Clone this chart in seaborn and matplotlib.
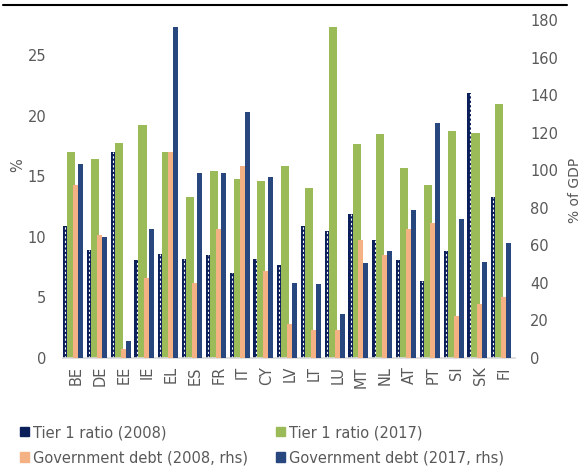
import numpy as np
import pandas as pd
import matplotlib
matplotlib.use("Agg")
import matplotlib.pyplot as plt
from matplotlib.lines import Line2D
from matplotlib.patches import Patch
import seaborn as sns

# %% Data ----
countries = ['BE', 'DE', 'EE', 'IE', 'EL', 'ES', 'FR', 'IT', 'CY', 'LV',
             'LT', 'LU', 'MT', 'NL', 'AT', 'PT', 'SI', 'SK', 'FI']

tier1_2008 = [10.9, 8.9, 17.0, 8.05, 8.6, 8.15, 8.5, 7.0, 8.15, 7.65,
              10.9, 10.5, 11.9, 9.7, 8.05, 6.35, 8.8, 21.9, 13.25]
tier1_2017 = [17.0, 16.4, 17.7, 19.2, 17.0, 13.3, 15.4, 14.8, 14.6, 15.85,
              14.0, 27.35, 17.65, 18.45, 15.7, 14.3, 18.7, 18.6, 21.0]
debt_2008 = [92.2, 65.5, 4.4, 42.4, 109.6, 39.8, 68.7, 102.3, 46.0, 18.1,
             14.9, 14.9, 62.9, 54.9, 68.7, 71.9, 22.0, 28.6, 32.5]
debt_2017 = [103.5, 64.1, 8.9, 68.7, 176.5, 98.4, 98.2, 131.2, 96.2, 39.8,
             39.2, 23.3, 50.4, 56.8, 78.5, 125.2, 74.1, 51.0, 61.4]

labels = ['Tier 1 ratio (2008)', 'Tier 1 ratio (2017)',
          'Government debt (2008, rhs)', 'Government debt (2017, rhs)']

c_t08 = '#0B1F5B'
c_t17 = '#9BBB59'
c_d08 = '#F4B183'
c_d17 = '#28477E'
grey = '#595959'

# %% Plot ----
sns.set_theme(style='white')
plt.rcParams['font.family'] = ['DejaVu Sans']

fig = plt.figure(figsize=(5.84, 4.70), dpi=100)
ax = fig.add_axes([63/584, 1 - 357.7/470, 452/584, 337.7/470])
ax2 = ax.twinx()

pos = np.arange(len(countries))

def draw_bars(axis, values, offset, width, color):
    df = pd.DataFrame({'x': pos + offset, 'y': values})
    sns.barplot(data=df, x='x', y='y', native_scale=True, width=width,
                color=color, saturation=1, errorbar=None, linewidth=0,
                ax=axis)

# left axis: tier 1 ratios
draw_bars(ax, tier1_2008, -0.465, 0.17, c_t08)
ax.vlines(pos - 0.455, 0, tier1_2008, colors='white',
          linestyles=(0, (2, 2)), lw=0.8)
draw_bars(ax, tier1_2017, -0.21, 0.34, c_t17)

# right axis: government debt
draw_bars(ax2, debt_2008, -0.025, 0.21, c_d08)
draw_bars(ax2, debt_2017, 0.185, 0.21, c_d17)

ax.set_xlim(-0.55, 18.45)
ax.set_ylim(0, 27.9)
ax2.set_ylim(0, 180)
ax.set_xticks(pos)
ax.set_xticklabels(countries, rotation=90)
ax.set_yticks([0, 5, 10, 15, 20, 25])
ax2.set_yticks(range(0, 181, 20))

ax.tick_params(axis='x', length=0, pad=6, labelsize=10.5, labelcolor=grey)
ax.tick_params(axis='y', length=0, pad=12, labelsize=10.5, labelcolor=grey)
ax2.tick_params(axis='y', length=0, pad=11, labelsize=10.5, labelcolor=grey)

ax.set_xlabel('')
ax.set_ylabel('%', fontsize=10.5, color=grey)
ax.yaxis.set_label_coords(-0.084, 0.57)
ax2.set_xlabel('')
ax2.set_ylabel('% of GDP', fontsize=10, color=grey)
ax2.yaxis.set_label_coords(1.117, 0.495)

for s in ['top', 'left', 'right']:
    ax.spines[s].set_visible(False)
ax.spines['bottom'].set_color('#D9D9D9')
ax.spines['bottom'].set_linewidth(1.2)
for s in ax2.spines.values():
    s.set_visible(False)
ax.grid(False)
ax2.grid(False)

# legend (column-wise fill -> order for two rows)
handles = [Patch(facecolor=c_t08, edgecolor=c_t08),
           Patch(facecolor=c_d08, edgecolor=c_d08),
           Patch(facecolor=c_t17, edgecolor=c_t17),
           Patch(facecolor=c_d17, edgecolor=c_d17)]
fig.legend(handles, [labels[0], labels[2], labels[1], labels[3]],
           ncol=2, loc='upper left', bbox_to_anchor=(20/584, 1 - 425/470),
           frameon=False, fontsize=10.5, handlelength=0.6, handleheight=0.6,
           handletextpad=0.3, columnspacing=1.9, labelspacing=0.7,
           borderpad=0, borderaxespad=0, labelcolor=grey)

# top rule
fig.add_artist(Line2D([3/584, 567/584], [1 - 5/470, 1 - 5/470],
                      color='black', lw=1.5))

fig.savefig('out.png', dpi=100)
